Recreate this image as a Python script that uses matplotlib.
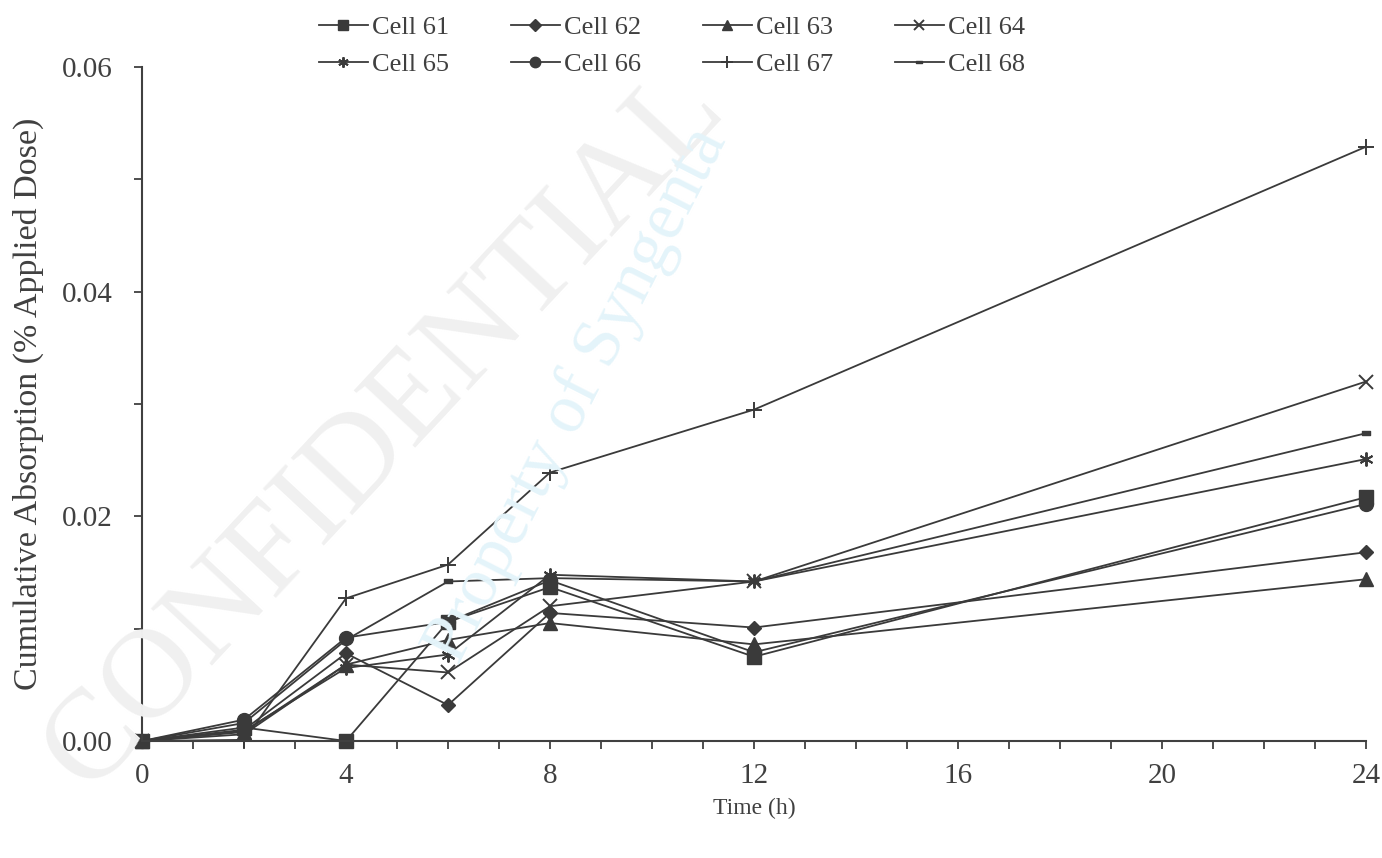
import matplotlib
matplotlib.use("Agg")
import matplotlib.pyplot as plt
from matplotlib.ticker import MultipleLocator, FixedLocator
from matplotlib.path import Path

hours = [0, 2, 4, 6, 8, 12, 24]
cell61 = [0, 0.0012, 0.0000, 0.0106, 0.0137, 0.0075, 0.0217]
cell62 = [0, 0.0010, 0.0078, 0.0032, 0.0114, 0.0101, 0.0168]
cell63 = [0, 0.0008, 0.0068, 0.0090, 0.0105, 0.0086, 0.0144]
cell64 = [0, 0.0006, 0.0068, 0.0061, 0.0120, 0.0142, 0.0320]
cell65 = [0, 0.0009, 0.0065, 0.0077, 0.0148, 0.0142, 0.0251]
cell66 = [0, 0.0019, 0.0092, 0.0106, 0.0143, 0.0079, 0.0211]
cell67 = [0, 0.0001, 0.0127, 0.0157, 0.0239, 0.0295, 0.0529]
cell68 = [0, 0.0016, 0.0090, 0.0142, 0.0145, 0.0142, 0.0274]

labels = ["Cell 61", "Cell 62", "Cell 63", "Cell 64",
          "Cell 65", "Cell 66", "Cell 67", "Cell 68"]
series = [cell61, cell62, cell63, cell64, cell65, cell66, cell67, cell68]

x_ticks = [0, 4, 8, 12, 16, 20, 24]
y_ticks = [0.00, 0.02, 0.04, 0.06]
y_ticklabels = ["0.00", "0.02", "0.04", "0.06"]

dash = Path([(-1, -0.38), (1, -0.38), (1, 0.38), (-1, 0.38), (-1, -0.38)],
            [Path.MOVETO, Path.LINETO, Path.LINETO, Path.LINETO, Path.CLOSEPOLY])

styles = [
    dict(marker="s", ms=10),
    dict(marker="D", ms=7.5),
    dict(marker="^", ms=10),
    dict(marker="x", ms=10, mew=1.4),
    dict(marker=(6, 2, 0), ms=10, mew=1.4),
    dict(marker="o", ms=10),
    dict(marker="+", ms=11, mew=1.4),
    dict(marker=dash, ms=6),
]

plt.rcParams["font.family"] = ["Liberation Serif", "DejaVu Serif"]
col = "#3a3a3a"
tcol = "#404040"

fig = plt.figure(figsize=(13.82, 8.58), dpi=100)

# faint watermark texts
fig.text(385/1382, 1-430/858, "CONFIDENTIAL", rotation=47, fontsize=92,
         color="#f0f0f0", ha="center", va="center", zorder=0)
fig.text(578/1382, 1-395/858, "Property of Syngenta", rotation=63,
         fontsize=50, color="#e4f4fa", ha="center", va="center", zorder=0)

ax = fig.add_axes([142/1382, 1-741/858, (1366-142)/1382, (741-67)/858])
ax.patch.set_alpha(0)

handles = []
for ys, lab, st in zip(series, labels, styles):
    h, = ax.plot(hours, ys, color=col, lw=1.3, mfc=col, mec=col,
                 clip_on=False, label=lab, **st)
    handles.append(h)

ax.set_xlim(0, 24)
ax.set_ylim(0, 0.06)
ax.xaxis.set_major_locator(FixedLocator(x_ticks))
ax.xaxis.set_minor_locator(MultipleLocator(1))
ax.yaxis.set_major_locator(FixedLocator(y_ticks))
ax.yaxis.set_minor_locator(MultipleLocator(0.01))
ax.set_yticklabels(y_ticklabels)
ax.tick_params(which="both", direction="out", length=6, width=1.3,
               color=tcol, labelcolor=tcol, labelsize=21)
ax.tick_params(axis="x", pad=10)
ax.tick_params(axis="y", pad=15)
for s in ["top", "right"]:
    ax.spines[s].set_visible(False)
for s in ["left", "bottom"]:
    ax.spines[s].set_color(tcol)
    ax.spines[s].set_linewidth(1.5)

ax.set_xlabel("Time (h)", fontsize=17, color=tcol, va="center")
ax.xaxis.set_label_coords(0.5, (741-808)/674)
ax.set_ylabel("Cumulative Absorption (% Applied Dose)", fontsize=24.5,
              color=tcol, va="center")
ax.yaxis.set_label_coords((28-142)/1224, 0.5)

order = [0, 4, 1, 5, 2, 6, 3, 7]
leg = fig.legend([handles[i] for i in order], [labels[i] for i in order],
                 ncol=4, loc="upper left", bbox_to_anchor=(319/1382, 1-16/858),
                 frameon=False, fontsize=19, handlelength=1.85,
                 handletextpad=0.15, columnspacing=2.35, labelspacing=0.5,
                 markerscale=0.75, borderaxespad=0, borderpad=0)
for t in leg.get_texts():
    t.set_color(tcol)

fig.savefig("out.png", dpi=100)
